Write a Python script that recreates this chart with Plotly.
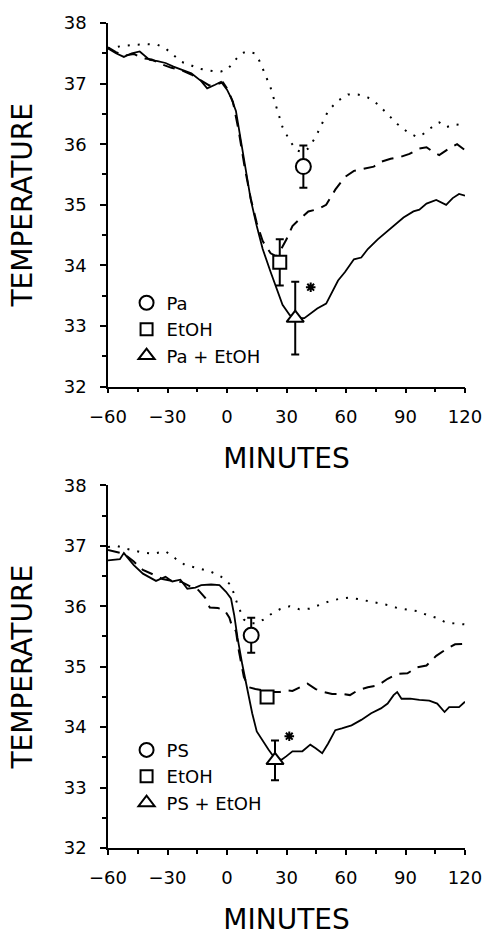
import plotly.graph_objects as go

# ---------------- Top panel (Pa) ----------------
top_pa_x = [-60,-53,-47,-40,-35,-31,-27,-23,-18,-14.5,-10,-6,-3,0,2.5,5,7.5,10,14,16,18,20,22,25,28,31.6,35,38,41,44.7,48,51,56,61,66,71,76,81,86,91,95.7,99,102,107,110.5,115,120]
top_pa_y = [37.58,37.62,37.64,37.65,37.64,37.58,37.47,37.36,37.3,37.25,37.22,37.2,37.2,37.23,37.32,37.42,37.5,37.53,37.5,37.4,37.25,37.1,36.93,36.6,36.28,36.06,35.9,35.87,35.93,36.12,36.36,36.55,36.72,36.82,36.82,36.77,36.66,36.5,36.33,36.2,36.12,36.17,36.25,36.36,36.28,36.33,36.3]

top_etoh_x = [-60,-56,-52,-47,-43,-38,-33,-28,-23,-18,-13,-9,-5,-2,0,3,6,9,12,15,18,22,25,27,30,33,36.5,41,46,50,54.6,59.5,64,69,74,77.6,82.5,87.5,92,97,100.6,104,107,112,116,120]
top_etoh_y = [37.6,37.52,37.46,37.49,37.42,37.4,37.32,37.26,37.22,37.15,37.05,36.97,36.99,37.02,36.92,36.7,36.2,35.6,35.1,34.7,34.4,34.2,34.15,34.25,34.43,34.65,34.76,34.89,34.93,35.0,35.25,35.46,35.56,35.6,35.63,35.71,35.76,35.79,35.84,35.93,35.95,35.87,35.82,35.93,36.0,35.9]

top_both_x = [-60,-56,-52,-48,-44,-39,-35,-31,-27,-23,-18,-13,-10,-6,-3,0,2,4.5,7,9.4,12,15,18,22,25,28,31.6,35,39,42,45.5,50,53,56,59.5,64,67.7,71,76,81,84,89,94,97,100.6,105.5,110.5,113.8,117,120]
top_both_y = [37.58,37.5,37.44,37.5,37.53,37.39,37.37,37.34,37.28,37.23,37.17,37.04,36.92,36.98,37.03,36.9,36.77,36.55,36.06,35.52,35.08,34.65,34.27,33.89,33.62,33.35,33.18,33.13,33.13,33.21,33.29,33.37,33.56,33.75,33.89,34.1,34.13,34.27,34.43,34.57,34.65,34.79,34.89,34.92,35.02,35.08,35.0,35.11,35.18,35.15]

top_labels = ["Pa", "EtOH", "Pa + EtOH"]
top_pt_x = [38.5, 26.6, 34.4]
top_pt_y = [35.63, 34.05, 33.13]
top_pt_err = [0.35, 0.38, 0.6]
top_star_x = [42.2]
top_star_y = [33.64]

# ---------------- Bottom panel (PS) ----------------
bot_ps_x = [-60,-55.6,-50.6,-44,-37.5,-31,-26,-21,-14.5,-8,-3,2,5.3,8.5,12,15,18.4,21.7,26.6,31.6,36.5,41.4,46.4,51.3,56.2,61,66,71,76,81,86,91,95.7,100.6,105.5,110.5,115,120]
bot_ps_y = [36.98,37.0,36.95,36.9,36.87,36.91,36.79,36.68,36.63,36.57,36.49,36.35,36.03,35.78,35.72,35.72,35.78,35.86,35.95,36.0,35.95,35.96,36.02,36.08,36.12,36.14,36.12,36.09,36.05,36.02,35.97,35.94,35.92,35.86,35.81,35.73,35.71,35.7]

bot_etoh_x = [-60,-52,-47,-42.4,-37.5,-32.5,-27.6,-22.7,-18.6,-14.5,-11,-8.7,-4.6,-1.3,1.2,2.8,4.5,6,8.5,11,14.3,18.4,23.3,26.6,30,33,36.5,40.6,44.7,48.8,53,58,62,66,71,76,81,86,91,95.7,100.6,105.5,110.5,115,120]
bot_etoh_y = [36.93,36.87,36.74,36.6,36.53,36.45,36.42,36.4,36.33,36.27,36.14,35.98,35.97,35.94,35.81,35.64,35.59,35.26,34.83,34.66,34.63,34.61,34.58,34.58,34.61,34.6,34.66,34.72,34.63,34.58,34.55,34.55,34.53,34.61,34.66,34.69,34.8,34.88,34.89,34.99,35.02,35.18,35.29,35.37,35.38]

bot_both_x = [-60,-54,-52,-47,-42.4,-35.8,-31,-27.6,-23.5,-20,-16,-13,-8,-3.8,-0.5,2,3.6,5.3,7.7,10.2,12.7,15,17.6,20.9,24,27.5,30,33,38,42,44.7,48,51,54.6,57.9,62.8,67.7,72.7,77.6,81,84,85.8,88,92.4,97,102,106,109.7,112,117,120]
bot_both_y = [36.76,36.78,36.88,36.68,36.54,36.42,36.49,36.41,36.44,36.29,36.31,36.35,36.36,36.35,36.24,36.13,35.86,35.48,35.04,34.61,34.23,33.93,33.79,33.63,33.49,33.46,33.52,33.6,33.6,33.71,33.65,33.57,33.73,33.95,33.98,34.03,34.12,34.23,34.31,34.39,34.53,34.58,34.47,34.47,34.45,34.44,34.39,34.25,34.33,34.33,34.42]

bot_labels = ["PS", "EtOH", "PS + EtOH"]
bot_pt_x = [12.2, 20.2, 24.2]
bot_pt_y = [35.52, 34.5, 33.45]
bot_pt_err = [0.29, 0.06, 0.33]
bot_star_x = [31.4]
bot_star_y = [33.85]

x_tickvals = [-60, -30, 0, 30, 60, 90, 120]
x_ticktext = ["\u221260", "\u221230", "0", "30", "60", "90", "120"]

symbols = ["circle", "square", "triangle-up"]
sizes = [15, 13, 15]
FONT = "DejaVu Sans, Liberation Sans, Arial, sans-serif"

fig = go.Figure()

def add_panel(xa, ya, legend, lines, pts_x, pts_y, pts_err, labels, star_x, star_y):
    styles = [dict(dash="2px,8px", width=2), dict(dash="12px,8px", width=2), dict(dash="solid", width=1.8)]
    for (lx, ly), st in zip(lines, styles):
        fig.add_trace(go.Scatter(x=lx, y=ly, mode="lines", xaxis=xa, yaxis=ya,
                                 line=dict(color="black", **st), showlegend=False,
                                 hoverinfo="skip"))
    for i in range(3):
        fig.add_trace(go.Scatter(
            x=[pts_x[i]], y=[pts_y[i]], mode="markers", xaxis=xa, yaxis=ya,
            marker=dict(symbol=symbols[i], size=sizes[i], color="white",
                        line=dict(color="black", width=2)),
            error_y=dict(type="data", array=[pts_err[i]], color="black", thickness=2, width=4),
            showlegend=False))
        fig.add_trace(go.Scatter(
            x=[None], y=[None], mode="markers", xaxis=xa, yaxis=ya, name=labels[i],
            marker=dict(symbol=symbols[i] + "-open", size=sizes[i] - 1, color="black",
                        line=dict(color="black", width=2)),
            legend=legend, showlegend=True))
    fig.add_trace(go.Scatter(x=star_x, y=star_y, mode="markers", xaxis=xa, yaxis=ya,
                             marker=dict(symbol="asterisk-open", size=8, color="black",
                                         line=dict(color="black", width=2)),
                             showlegend=False))

add_panel("x", "y", "legend",
          [(top_pa_x, top_pa_y), (top_etoh_x, top_etoh_y), (top_both_x, top_both_y)],
          top_pt_x, top_pt_y, top_pt_err, top_labels, top_star_x, top_star_y)
add_panel("x2", "y2", "legend2",
          [(bot_ps_x, bot_ps_y), (bot_etoh_x, bot_etoh_y), (bot_both_x, bot_both_y)],
          bot_pt_x, bot_pt_y, bot_pt_err, bot_labels, bot_star_x, bot_star_y)

xax = dict(range=[-60, 120], tickvals=x_tickvals, ticktext=x_ticktext,
           ticks="outside", ticklen=5, tickwidth=1.5, tickcolor="black",
           minor=dict(dtick=15, tick0=-60, ticks="outside", ticklen=4, tickwidth=1.5, tickcolor="black"),
           showline=True, linecolor="black", linewidth=1.5, showgrid=False, zeroline=False,
           tickfont=dict(family=FONT, size=18, color="black"), ticklabelstandoff=8,
           title=dict(text="MINUTES", font=dict(family=FONT, size=28, color="black"), standoff=22))
yax = dict(range=[32, 38], dtick=1, tick0=32,
           ticks="outside", ticklen=6, tickwidth=1.5, tickcolor="black",
           minor=dict(dtick=0.5, ticks="outside", ticklen=4, tickwidth=1.5, tickcolor="black"),
           showline=True, linecolor="black", linewidth=1.5, showgrid=False, zeroline=False,
           tickfont=dict(family=FONT, size=18, color="black"), ticklabelstandoff=10,
           title=dict(text="TEMPERATURE", font=dict(family=FONT, size=28, color="black"), standoff=23))

legfont = dict(family=FONT, size=18, color="black")
fig.update_layout(
    width=494, height=942,
    margin=dict(l=108, r=21, t=21, b=86),
    plot_bgcolor="white", paper_bgcolor="white",
    xaxis=dict(**xax, domain=[0, 1], anchor="y"),
    yaxis=dict(**yax, domain=[0.5593, 1], anchor="x"),
    xaxis2=dict(**xax, domain=[0, 1], anchor="y2"),
    yaxis2=dict(**yax, domain=[0, 0.4395], anchor="x2"),
    legend=dict(x=0.052, y=0.683, xanchor="left", yanchor="top", font=legfont,
                bgcolor="rgba(0,0,0,0)", tracegroupgap=0),
    legend2=dict(x=0.052, y=0.141, xanchor="left", yanchor="top", font=legfont,
                 bgcolor="rgba(0,0,0,0)", tracegroupgap=0),
    font=dict(family=FONT, color="black"),
)

fig.write_html("out.html", config={"displayModeBar": False},
               post_script="document.body.style.margin='0';")
